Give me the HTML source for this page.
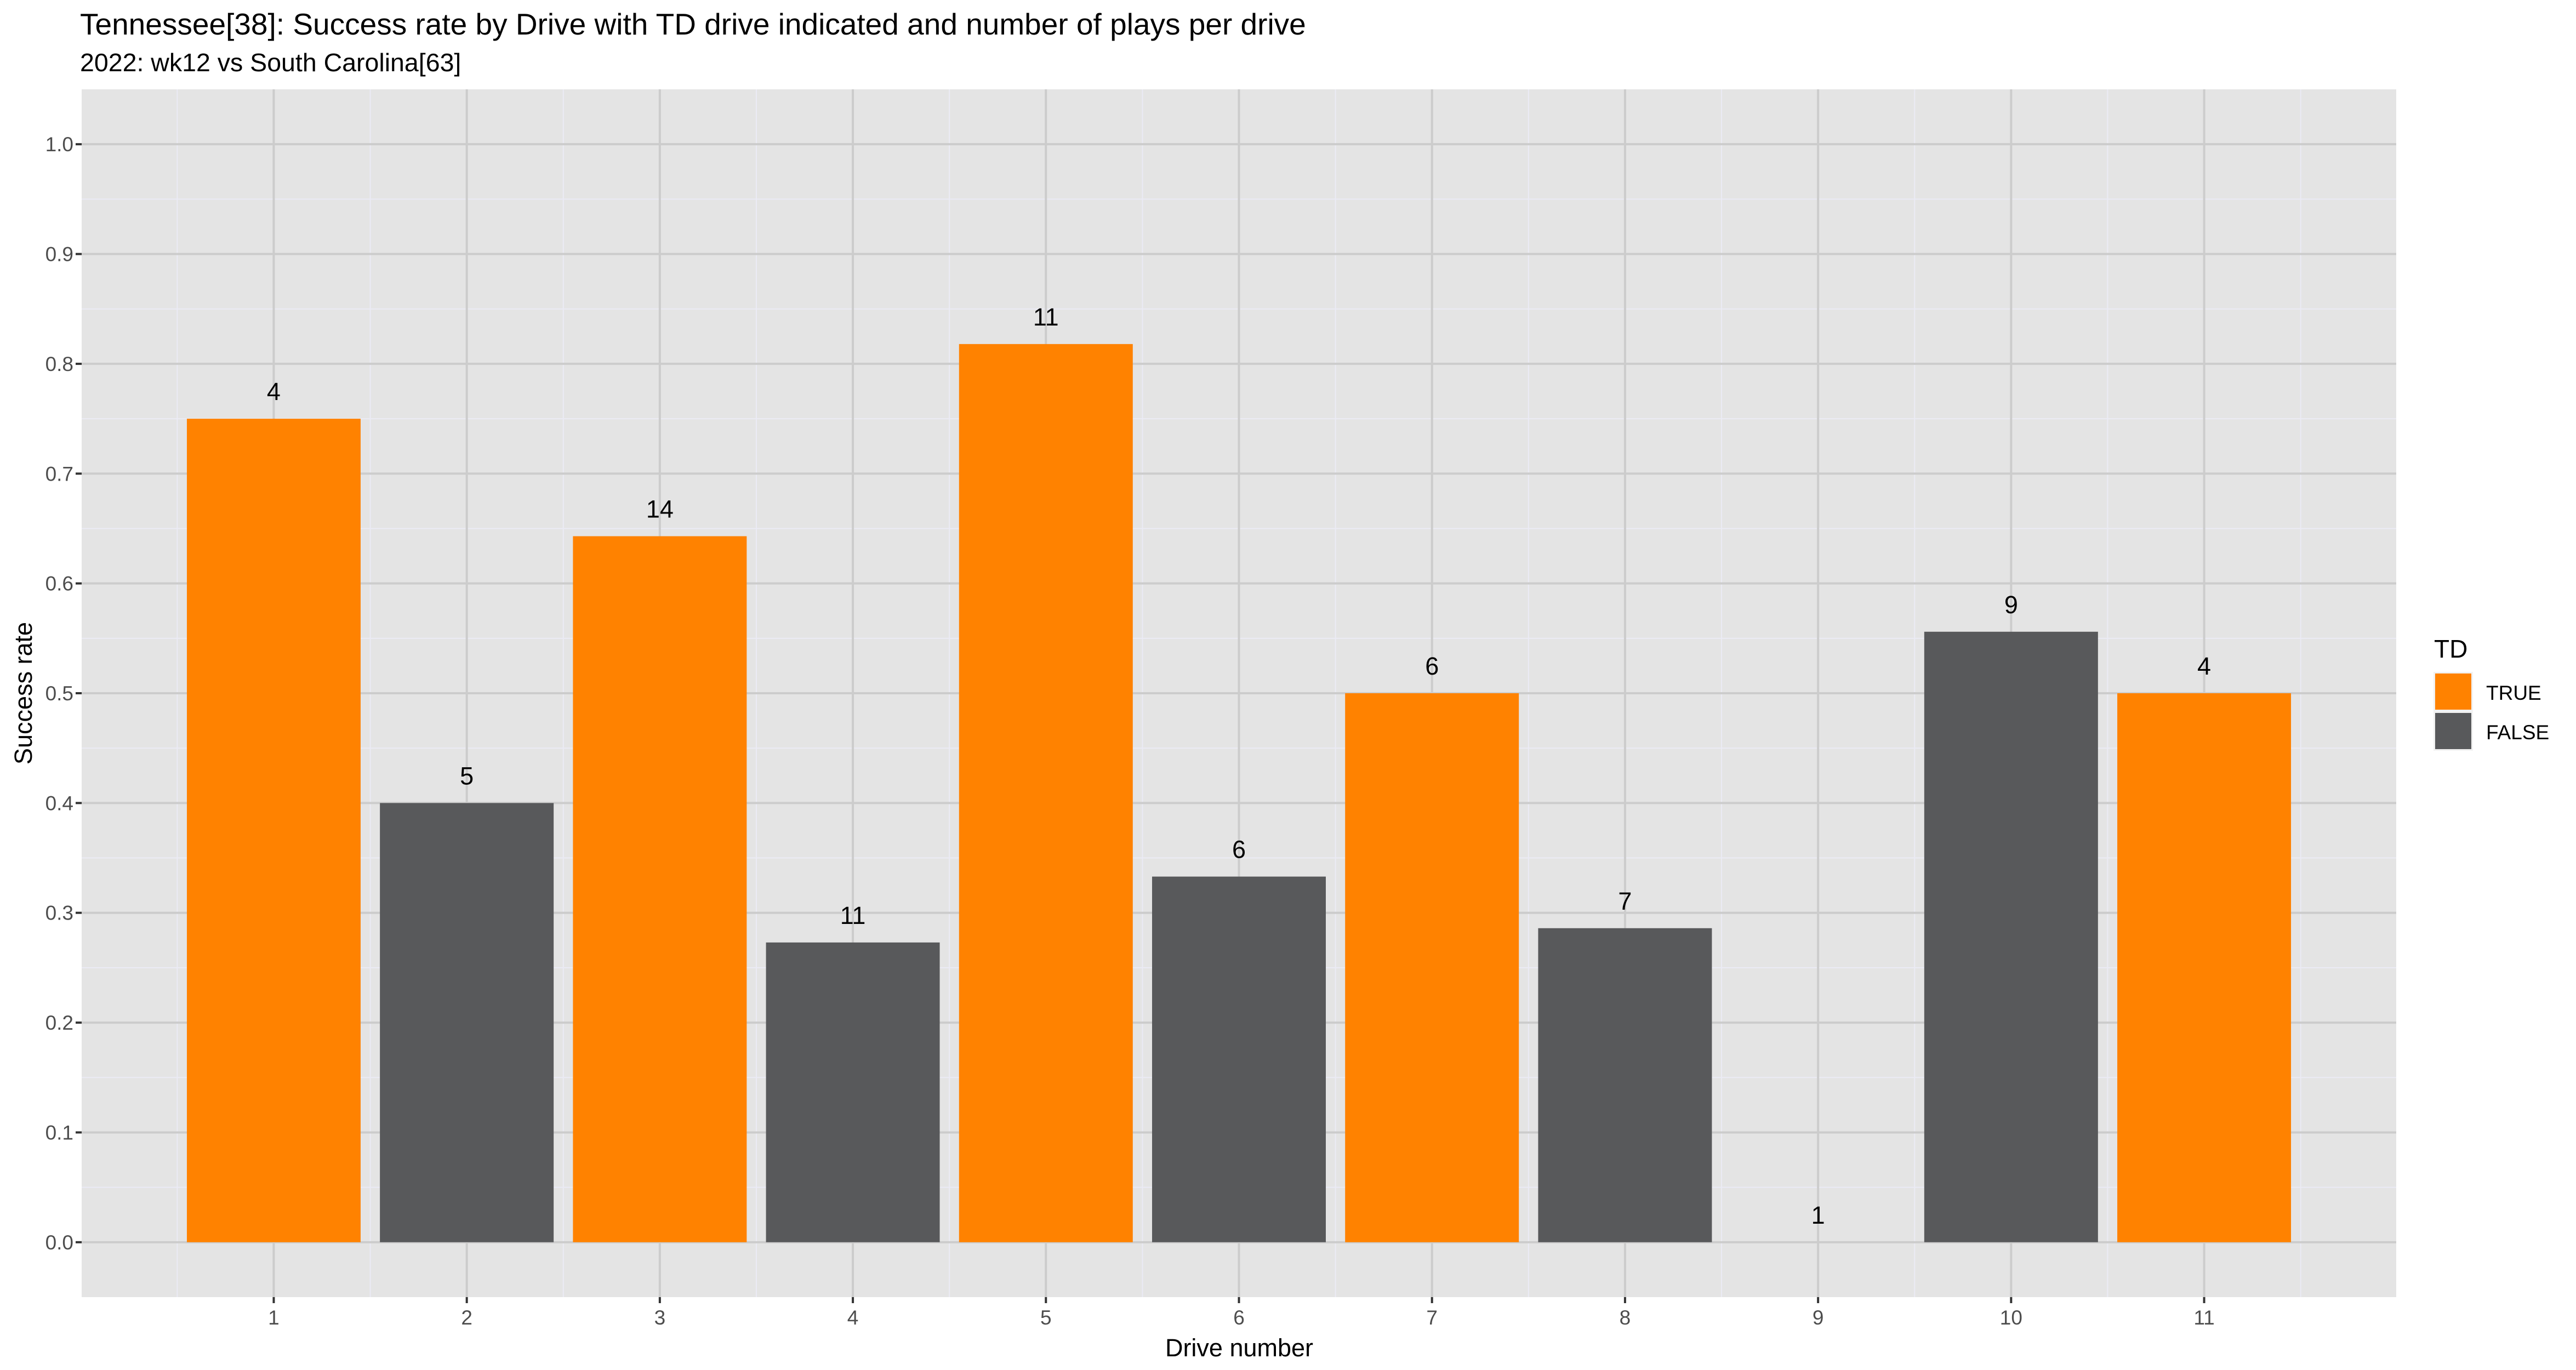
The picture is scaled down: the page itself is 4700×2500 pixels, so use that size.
<!DOCTYPE html>
<html><head><meta charset="utf-8"><style>
html,body{margin:0;padding:0;background:#fff;}
svg{display:block;font-family:"Liberation Sans",Arial,sans-serif;}
</style></head><body>
<svg id="chart" width="4700" height="2500" viewBox="0 0 4700 2500">
<rect x="0" y="0" width="4700" height="2500" fill="#ffffff"/>
<text x="146" y="63" font-size="55" fill="#000">Tennessee[38]: Success rate by Drive with TD drive indicated and number of plays per drive</text>
<text x="146" y="130" font-size="46.5" fill="#000">2022: wk12 vs South Carolina[63]</text>
<rect x="149" y="163" width="4223" height="2204" fill="#e4e4e4"/>
<g id="grid"></g>
<g id="bars"></g>
<g id="labels"></g>
<g id="axes"></g>
<text x="2261" y="2475" font-size="45" text-anchor="middle" fill="#000">Drive number</text>
<text transform="translate(58,1265) rotate(-90)" font-size="45" text-anchor="middle" fill="#000">Success rate</text>
<g>
<text x="4441" y="1200" font-size="46" fill="#000">TD</text>
<rect x="4440" y="1226" width="72" height="144" fill="#f2f2f2"/>
<rect x="4443" y="1229" width="66" height="66" fill="#ff8200"/>
<rect x="4443" y="1301" width="66" height="66" fill="#58595b"/>
<text x="4536" y="1277" font-size="37" fill="#000">TRUE</text>
<text x="4536" y="1349" font-size="37" fill="#000">FALSE</text>
</g>
</svg>
<script>
const drives = [1,2,3,4,5,6,7,8,9,10,11];
const successRate = [0.75,0.4,0.643,0.273,0.818,0.333,0.5,0.286,0,0.556,0.5];
const plays = [4,5,14,11,11,6,6,7,1,9,4];
const isTD = [true,false,true,false,true,false,true,false,false,false,true];
const yTicks = [0,0.1,0.2,0.3,0.4,0.5,0.6,0.7,0.8,0.9,1.0];
const yTickLabels = ["0.0","0.1","0.2","0.3","0.4","0.5","0.6","0.7","0.8","0.9","1.0"];

const NS="http://www.w3.org/2000/svg";
const PL=149,PR=4372,PT=163,PB=2367;
const xMin=0.005,xMax=11.995,yMin=-0.05,yMax=1.05;
function xs(v){return PL+(v-xMin)/(xMax-xMin)*(PR-PL);}
function ys(v){return PB-(v-yMin)/(yMax-yMin)*(PB-PT);}
function mk(tag,attrs,parent){const e=document.createElementNS(NS,tag);for(const k in attrs)e.setAttribute(k,attrs[k]);parent.appendChild(e);return e;}
const grid=document.getElementById('grid'),bars=document.getElementById('bars'),labels=document.getElementById('labels'),axes=document.getElementById('axes');
for(let i=0;i<yTicks.length-1;i++){
  const v=(yTicks[i]+yTicks[i+1])/2;
  const l=mk('line',{x1:PL,x2:PR,y1:ys(v),y2:ys(v),stroke:'#ebebf5','stroke-width':2},grid);
  
  
}
for(let i=0;i<=drives.length;i++){
  const v=i+0.5;
  const l=mk('line',{x1:xs(v),x2:xs(v),y1:PT,y2:PB,stroke:'#ebebf5','stroke-width':2},grid);
  
  
}
yTicks.forEach((v,i)=>{
  const l=mk('line',{x1:PL,x2:PR,y1:ys(v),y2:ys(v),stroke:'#cccccc','stroke-width':4},grid);
  
  
  const t=mk('line',{x1:PL-11,x2:PL,y1:ys(v),y2:ys(v),stroke:'#333','stroke-width':4},axes);
  
  
  const tx=mk('text',{x:PL-15,y:ys(v)+13,'font-size':37,'text-anchor':'end',fill:'#4d4d4d'},axes);
  tx.textContent=yTickLabels[i];
  
  
});
drives.forEach((d,i)=>{
  const l=mk('line',{x1:xs(d),x2:xs(d),y1:PT,y2:PB,stroke:'#cccccc','stroke-width':4},grid);
  
  
  const t=mk('line',{x1:xs(d),x2:xs(d),y1:PB,y2:PB+11,stroke:'#333','stroke-width':4},axes);
  
  
  const tx=mk('text',{x:xs(d),y:2417,'font-size':37,'text-anchor':'middle',fill:'#4d4d4d'},axes);
  tx.textContent=String(d);
  
  
  const w=xs(d+0.45)-xs(d-0.45);
  const top=ys(successRate[i]),base=ys(0);
  const b=mk('rect',{x:xs(d-0.45),y:top,width:w,height:Math.max(0,base-top),fill:isTD[i]?'#ff8200':'#58595b'},bars);
  
  
  const lb=mk('text',{x:xs(d),y:top-34,'font-size':45,'text-anchor':'middle',fill:'#000'},labels);
  lb.textContent=String(plays[i]);
  
  
});
</script>
</body></html>
